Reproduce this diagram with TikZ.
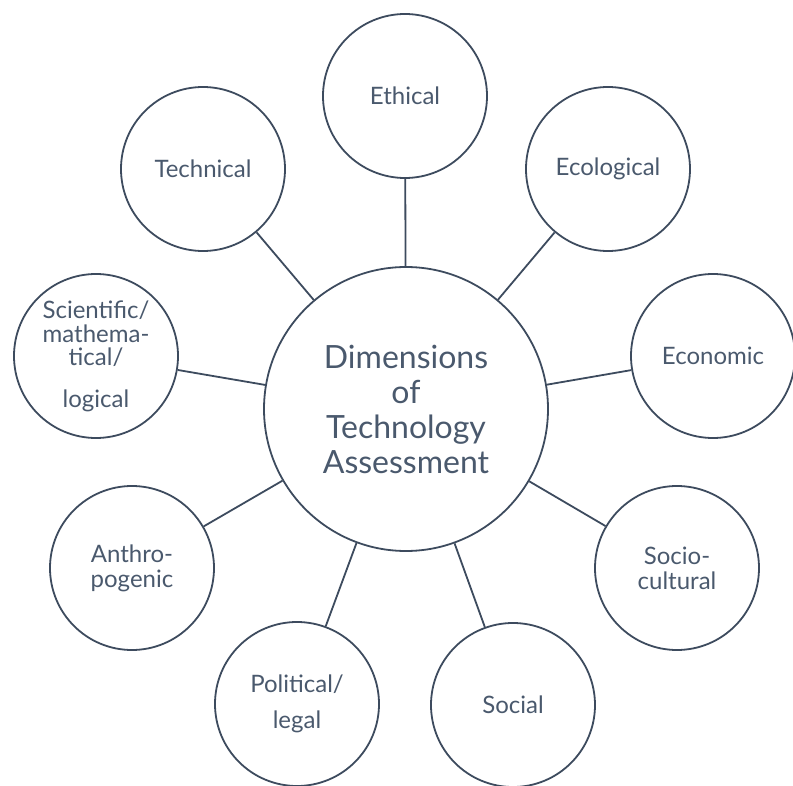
\documentclass[tikz,border=0pt]{standalone}
\usepackage{fontspec}
\setmainfont{Lato}
\usepackage{tikz}
\definecolor{slate}{HTML}{3D4B5E}
\definecolor{slatetext}{HTML}{4A596D}
\tikzset{
    dim/.style={circle, draw=slate, line width=1.8pt, minimum size=164pt, inner sep=0pt,
        align=center, text=slatetext, font=\fontsize{24}{25}\selectfont},
    hub/.style={dim, minimum size=284pt, font=\fontsize{32}{35}\selectfont},
    spoke/.style={draw=slate, line width=1.8pt}
}
\begin{document}
\begin{tikzpicture}[x=1pt, y=-1pt]
    \useasboundingbox (0,0) rectangle (793,786);

    \node[hub] (center) at (406,409) {Dimensions\\of\\Technology\\Assessment};

    \node[dim] (ethical) at (405,96) {Ethical};
    \node[dim] (technical) at (203,169) {Technical};
    \node[dim] (ecological) at (608,169) {Ecological};
    \node[dim] (economic) at (713,356) {Economic};
    \node[dim] (scientific) at (96,356) {Scientific/\\[-1pt]mathema-\\[-2pt]tical/\\[17pt]logical};
    \node[dim] (anthro) at (132,568) {Anthro-\\pogenic};
    \node[dim] (sociocultural) at (677,568) {Socio-\\cultural};
    \node[dim] (political) at (297,704) {Political/\\[11pt]legal};
    \node[dim] (social) at (513,705) {Social};

    \draw[spoke] (center) -- (ethical);
    \draw[spoke] (center) -- (technical);
    \draw[spoke] (center) -- (ecological);
    \draw[spoke] (center) -- (economic);
    \draw[spoke] (center) -- (scientific);
    \draw[spoke] (center) -- (anthro);
    \draw[spoke] (center) -- (sociocultural);
    \draw[spoke] (center) -- (political);
    \draw[spoke] (center) -- (social);
\end{tikzpicture}
\end{document}
